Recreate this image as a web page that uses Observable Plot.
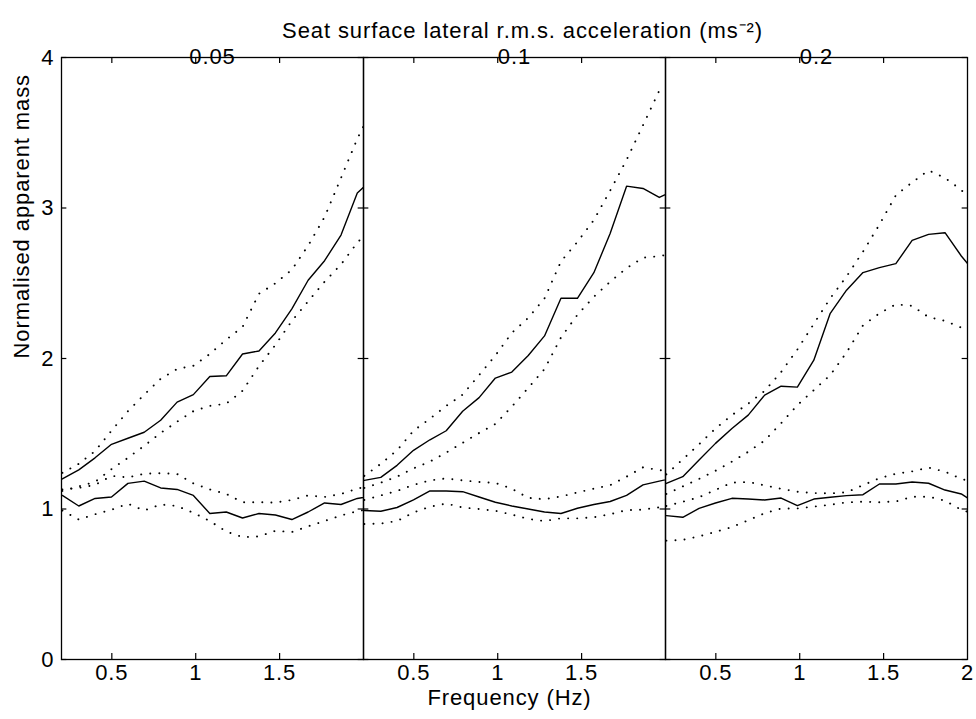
<!DOCTYPE html>
<html><head><meta charset="utf-8">
<script src="https://cdn.jsdelivr.net/npm/d3@7"></script>
<script src="https://cdn.jsdelivr.net/npm/@observablehq/plot@0.6"></script>
<style>body{margin:0;background:#fff}</style>
</head><body><div id="chart"></div>
<script>
// Frequency points (Hz)
const freq = [0.205, 0.303, 0.400, 0.498, 0.596, 0.693, 0.791, 0.889, 0.986, 1.084, 1.182, 1.279, 1.377, 1.475, 1.573, 1.670, 1.768, 1.866, 1.963, 2.061];

// Panel 0.05 ms^-2
const a005_upperMean = [1.20, 1.26, 1.34, 1.43, 1.47, 1.51, 1.59, 1.71, 1.76, 1.88, 1.885, 2.03, 2.05, 2.17, 2.33, 2.52, 2.65, 2.82, 3.10, 3.20];
const a005_upperHi   = [1.24, 1.30, 1.385, 1.52, 1.65, 1.76, 1.865, 1.93, 1.952, 2.03, 2.125, 2.21, 2.43, 2.50, 2.59, 2.75, 2.94, 3.20, 3.46, 3.68];
const a005_upperLo   = [1.12, 1.15, 1.18, 1.265, 1.34, 1.42, 1.505, 1.58, 1.65, 1.685, 1.70, 1.785, 1.95, 2.09, 2.25, 2.38, 2.51, 2.625, 2.77, 2.88];
const a005_lowerMean = [1.09, 1.02, 1.07, 1.08, 1.17, 1.185, 1.14, 1.13, 1.09, 0.97, 0.98, 0.94, 0.97, 0.96, 0.93, 0.98, 1.04, 1.03, 1.07, 1.09];
const a005_lowerHi   = [1.13, 1.14, 1.16, 1.22, 1.21, 1.234, 1.238, 1.233, 1.17, 1.13, 1.10, 1.045, 1.045, 1.043, 1.06, 1.09, 1.08, 1.10, 1.135, 1.16];
const a005_lowerLo   = [0.99, 0.93, 0.965, 0.995, 1.035, 0.99, 1.03, 1.02, 0.975, 0.92, 0.85, 0.813, 0.818, 0.855, 0.847, 0.885, 0.92, 0.957, 0.985, 1.005];

// Panel 0.1 ms^-2
const a01_upperMean = [1.19, 1.21, 1.29, 1.39, 1.46, 1.52, 1.65, 1.74, 1.87, 1.91, 2.02, 2.15, 2.40, 2.40, 2.57, 2.83, 3.145, 3.13, 3.07, 3.12];
const a01_upperHi   = [1.22, 1.30, 1.39, 1.52, 1.60, 1.685, 1.76, 1.89, 2.02, 2.17, 2.27, 2.40, 2.645, 2.775, 2.92, 3.115, 3.32, 3.55, 3.78, 3.80];
const a01_upperLo   = [1.14, 1.175, 1.215, 1.27, 1.315, 1.375, 1.44, 1.505, 1.565, 1.68, 1.805, 1.93, 2.14, 2.29, 2.41, 2.51, 2.60, 2.67, 2.68, 2.70];
const a01_lowerMean = [0.99, 0.985, 1.01, 1.06, 1.12, 1.12, 1.115, 1.08, 1.045, 1.02, 1.0, 0.98, 0.97, 1.005, 1.03, 1.05, 1.09, 1.16, 1.185, 1.21];
const a01_lowerHi   = [1.06, 1.09, 1.12, 1.16, 1.19, 1.203, 1.19, 1.18, 1.173, 1.135, 1.074, 1.065, 1.083, 1.11, 1.135, 1.158, 1.215, 1.277, 1.258, 1.25];
const a01_lowerLo   = [0.90, 0.903, 0.92, 0.977, 1.015, 1.036, 1.01, 1.0, 0.988, 0.963, 0.934, 0.92, 0.938, 0.938, 0.945, 0.965, 0.993, 0.996, 1.011, 1.02];

// Panel 0.2 ms^-2
const a02_upperMean = [1.17, 1.215, 1.325, 1.436, 1.535, 1.624, 1.757, 1.816, 1.81, 1.989, 2.30, 2.454, 2.571, 2.604, 2.63, 2.785, 2.825, 2.836, 2.681, 2.55];
const a02_upperHi   = [1.23, 1.33, 1.43, 1.535, 1.624, 1.70, 1.785, 1.91, 2.06, 2.23, 2.40, 2.545, 2.71, 2.89, 3.085, 3.17, 3.25, 3.20, 3.12, 3.00];
const a02_upperLo   = [1.10, 1.15, 1.20, 1.254, 1.315, 1.38, 1.455, 1.57, 1.69, 1.79, 1.89, 2.04, 2.22, 2.30, 2.36, 2.35, 2.275, 2.25, 2.205, 2.17];
const a02_lowerMean = [0.956, 0.945, 1.004, 1.04, 1.071, 1.066, 1.06, 1.073, 1.022, 1.066, 1.078, 1.089, 1.095, 1.166, 1.166, 1.179, 1.171, 1.126, 1.10, 1.03];
const a02_lowerHi   = [1.02, 1.048, 1.078, 1.127, 1.175, 1.18, 1.157, 1.134, 1.115, 1.106, 1.104, 1.111, 1.158, 1.205, 1.234, 1.25, 1.275, 1.248, 1.20, 1.17];
const a02_lowerLo   = [0.79, 0.795, 0.818, 0.848, 0.88, 0.925, 0.972, 1.003, 1.004, 1.016, 1.028, 1.044, 1.049, 1.045, 1.05, 1.081, 1.082, 1.055, 0.995, 0.96];

// Facets, ticks and labels
const levels = [0.05, 0.1, 0.2];
const levelLabels = ["0.05", "0.1", "0.2"];
const xTicks = [0.5, 1, 1.5];
const xTickLast = [2];
const yTicks = [0, 1, 2, 3, 4];
const titleText = "Seat surface lateral r.m.s. acceleration (ms\u207B\u00B2)";
const xLabel = "Frequency (Hz)";
const yLabel = "Normalised apparent mass";

const panelSeries = [
  [a005_upperMean, a005_upperHi, a005_upperLo, a005_lowerMean, a005_lowerHi, a005_lowerLo],
  [a01_upperMean, a01_upperHi, a01_upperLo, a01_lowerMean, a01_lowerHi, a01_lowerLo],
  [a02_upperMean, a02_upperHi, a02_upperLo, a02_lowerMean, a02_lowerHi, a02_lowerLo]
];
const seriesKinds = ["mean", "band", "band", "mean", "band", "band"];

const rows = [];
levels.forEach((lev, p) => {
  panelSeries[p].forEach((arr, s) => {
    arr.forEach((v, i) => rows.push({level: lev, key: lev + "-" + s, kind: seriesKinds[s], f: freq[i], v}));
  });
});

const W = 976, H = 719;
const mL = 60, mR = 8, mT = 57, mB = 60;
const fw = (W - mL - mR) / 3, fh = H - mT - mB, tk = 6;

const chart = Plot.plot({
  width: W, height: H,
  marginLeft: mL, marginRight: mR, marginTop: mT, marginBottom: mB,
  style: {fontFamily: "'Liberation Sans', Arial, sans-serif", fontSize: "22px", letterSpacing: "0.9px", background: "#fff", color: "#000"},
  fx: {domain: levels, paddingInner: 0, paddingOuter: 0, axis: null},
  x: {domain: [0.2, 2], axis: null},
  y: {domain: [0, 4], axis: null},
  marks: [
    Plot.line(rows.filter(d => d.kind === "mean"), {fx: "level", x: "f", y: "v", z: "key", stroke: "#000", strokeWidth: 1.4, clip: true}),
    Plot.line(rows.filter(d => d.kind === "band"), {fx: "level", x: "f", y: "v", z: "key", stroke: "#000", strokeWidth: 1.9, strokeDasharray: "0.1,9", strokeLinecap: "round", clip: true}),
    Plot.ruleX(xTicks, {x: d => d, insetTop: fh - tk, stroke: "#000", strokeWidth: 1.2}),
    Plot.ruleX(xTicks, {x: d => d, insetBottom: fh - tk, stroke: "#000", strokeWidth: 1.2}),
    Plot.ruleY(yTicks, {y: d => d, insetRight: fw - tk, stroke: "#000", strokeWidth: 1.2}),
    Plot.ruleY(yTicks, {y: d => d, insetLeft: fw - tk, stroke: "#000", strokeWidth: 1.2}),
    Plot.frame({stroke: "#000", strokeWidth: 1.3}),
    Plot.text(xTicks, {x: d => d, text: d => String(d), frameAnchor: "bottom", dy: 20, fill: "#000"}),
    Plot.text(xTickLast, {x: d => d, fx: () => levels[2], text: d => String(d), frameAnchor: "bottom", dy: 20, fill: "#000"}),
    Plot.text(yTicks, {y: d => d, fx: () => levels[0], text: d => String(d), frameAnchor: "left", dx: -7, textAnchor: "end", fill: "#000"}),
    Plot.text(levels, {fx: d => d, text: (d, i) => levelLabels[i], frameAnchor: "top", dy: -9, fill: "#000"}),
    Plot.text([titleText], {fx: () => levels[1], text: d => d, frameAnchor: "top", dy: -35, dx: 8, fill: "#000"}),
    Plot.text([xLabel], {fx: () => levels[1], text: d => d, frameAnchor: "bottom", dy: 45, dx: -5, fill: "#000"}),
    Plot.text([yLabel], {fx: () => levels[0], text: d => d, frameAnchor: "left", dx: -40, rotate: -90, fill: "#000"})
  ]
});
document.getElementById("chart").appendChild(chart);
</script>
</body></html>
